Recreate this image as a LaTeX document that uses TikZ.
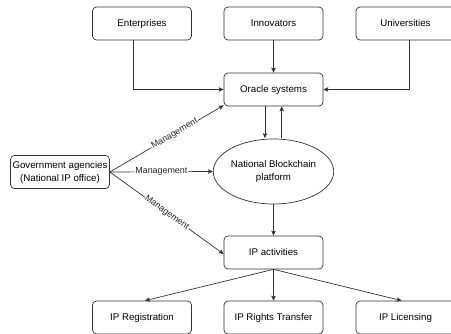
\documentclass[tikz,border=0pt]{standalone}
\usepackage{fontspec}
\setmainfont{Liberation Sans}
\usetikzlibrary{arrows.meta,shapes.geometric}
\begin{document}
\begin{tikzpicture}[x=1pt,y=-1pt,
  line/.style={draw=black!80,line width=0.7pt},
  arr/.style={line,-{Stealth[length=5pt,width=4.5pt,inset=1.2pt]}},
  box/.style={line,rounded corners=4pt,minimum width=99pt,minimum height=33pt,inner sep=0pt,align=center,font=\fontsize{9.7}{13}\selectfont},
  oval/.style={line,ellipse,minimum width=99pt,minimum height=65pt,inner sep=0pt,align=center,font=\fontsize{9.7}{13}\selectfont},
  lbl/.style={fill=white,inner sep=0.8pt,font=\fontsize{8.9}{10}\selectfont,text=black!85}]
\useasboundingbox (0,0) rectangle (451,334);
\clip (0,0) rectangle (451,334);
\node[box] (ent) at (142,23.5) {Enterprises};
\node[box] (inn) at (273.5,23.5) {Innovators};
\node[box] (uni) at (405.5,23.5) {Universities};
\node[box] (ora) at (273.5,89.5) {Oracle systems};
\node[box] (gov) at (60,172) {Government agencies\\(National IP office)};
\node[oval] (nbp) at (273.5,171.5) {National Blockchain\\platform};
\node[box] (ipa) at (273.5,252.5) {IP activities};
\node[box] (reg) at (142,317.5) {IP Registration};
\node[box] (tra) at (273.5,317.5) {IP Rights Transfer};
\node[box] (lic) at (405.5,317.5) {IP Licensing};
\draw[arr] ([xshift=-8.5pt]ent.south) |- (ora.west);
\draw[arr] (inn.south) -- (ora.north);
\draw[arr] ([xshift=4pt]uni.south) |- (ora.east);
\draw[arr] ([xshift=-8.5pt]ora.south) -- ([xshift=-8.5pt,yshift=0.5pt]nbp.north);
\draw[arr] ([xshift=8.2pt,yshift=0.5pt]nbp.north) -- ([xshift=8.2pt]ora.south);
\draw[arr] (gov.east) -- node[lbl,sloped,pos=0.57] {Management} ([yshift=1pt]ora.south west);
\draw[arr] (gov.east) -- node[lbl] {Management} (nbp.west);
\draw[arr] (gov.east) -- node[lbl,sloped,pos=0.5] {Management} ([yshift=-1.5pt]ipa.west);
\draw[arr] (nbp.south) -- (ipa.north);
\draw[arr] (ipa.south) -- ([xshift=3pt]reg.north);
\draw[arr] (ipa.south) -- (tra.north);
\draw[arr] (ipa.south) -- ([xshift=-3.8pt]lic.north);
\end{tikzpicture}
\end{document}
